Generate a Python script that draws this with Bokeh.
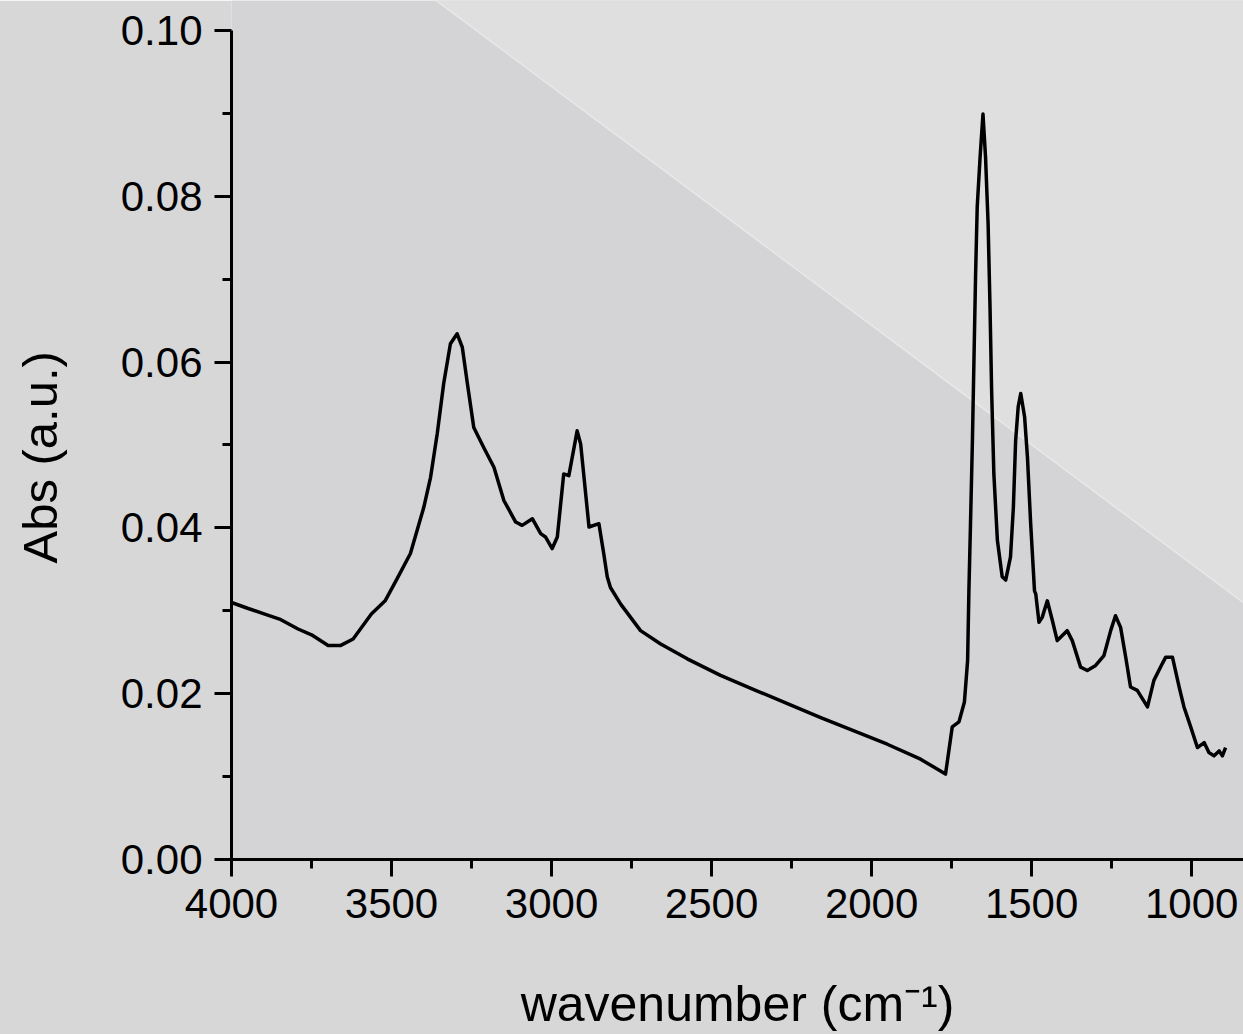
from bokeh.plotting import figure
from bokeh.models import Range1d, FixedTicker, PrintfTickFormatter, Title
from bokeh.embed import file_html
from bokeh.resources import INLINE

# ---- data ----
wavenumber = [4000, 3950, 3896, 3850, 3792, 3750, 3698, 3660, 3620, 3563, 3520,
              3482, 3441, 3399, 3378, 3357, 3337, 3316, 3295, 3279, 3263, 3243,
              3212, 3180, 3149, 3112, 3092, 3060, 3034, 3019, 2998, 2982, 2962,
              2946, 2920, 2909, 2883, 2852, 2837, 2826, 2816, 2784, 2722, 2659,
              2576, 2472, 2368, 2263, 2159, 2055, 1951, 1847, 1769, 1748, 1727,
              1710, 1700, 1696, 1691, 1685, 1680, 1675, 1670, 1661, 1652, 1644,
              1636, 1630, 1625, 1618, 1607, 1592, 1581, 1566, 1557, 1550, 1542,
              1534, 1522, 1513, 1503, 1491, 1487, 1477, 1467, 1451, 1435, 1420,
              1389, 1373, 1347, 1326, 1300, 1274, 1253, 1238, 1222, 1206, 1191,
              1170, 1138, 1118, 1092, 1081, 1060, 1039, 1024, 1003, 982, 961,
              946, 930, 914, 904, 894]
absorbance = [0.0310, 0.0303, 0.0296, 0.0290, 0.0278, 0.0271, 0.0258, 0.0258,
              0.0266, 0.0296, 0.0312, 0.0339, 0.0369, 0.0425, 0.0461, 0.0514,
              0.0574, 0.0622, 0.0634, 0.0618, 0.0574, 0.0521, 0.0497, 0.0473,
              0.0433, 0.0407, 0.0403, 0.0411, 0.0393, 0.0389, 0.0375, 0.0389,
              0.0465, 0.0463, 0.0517, 0.0501, 0.0401, 0.0405, 0.0369, 0.0341,
              0.0328, 0.0308, 0.0276, 0.0260, 0.0242, 0.0222, 0.0205, 0.0188,
              0.0171, 0.0155, 0.0139, 0.0121, 0.0103, 0.0160, 0.0166, 0.0190,
              0.0240, 0.0324, 0.0405, 0.0505, 0.0606, 0.0707, 0.0787, 0.0847,
              0.0899, 0.0847, 0.0767, 0.0666, 0.0566, 0.0465, 0.0385, 0.0341,
              0.0337, 0.0365, 0.0425, 0.0505, 0.0546, 0.0562, 0.0534, 0.0485,
              0.0405, 0.0324, 0.0320, 0.0286, 0.0292, 0.0312, 0.0288, 0.0264,
              0.0276, 0.0264, 0.0232, 0.0228, 0.0234, 0.0246, 0.0276, 0.0294,
              0.0280, 0.0244, 0.0208, 0.0204, 0.0184, 0.0216, 0.0236, 0.0244,
              0.0244, 0.0208, 0.0184, 0.0160, 0.0135, 0.0141, 0.0129, 0.0125,
              0.0131, 0.0125, 0.0135]

x_ticks = [4000, 3500, 3000, 2500, 2000, 1500, 1000]
x_minor = [3750, 3250, 2750, 2250, 1750, 1250]
y_ticks = [0.00, 0.02, 0.04, 0.06, 0.08, 0.10]
y_minor = [0.01, 0.03, 0.05, 0.07, 0.09]

FONT = "Liberation Sans"
SHIFT = 45                      # canvas starts this far left of the page edge
W, H = 1243 + SHIFT, 1034
LEFT, BOTTOM_PX = 231 + SHIFT, 859
X0, X1 = 4000, 838
Y0, Y1 = 0.0, 0.1036

def px_to_x(px):                # px in page pixels
    return X0 + (px + SHIFT - LEFT) * (X1 - X0) / (W - LEFT)

def py_to_y(py):
    return Y0 + (BOTTOM_PX - py) * (Y1 - Y0) / BOTTOM_PX

p = figure(width=W, height=H, x_range=Range1d(X0, X1), y_range=Range1d(Y0, Y1),
           output_backend="svg", toolbar_location=None,
           min_border_left=LEFT, min_border_right=0, min_border_top=0,
           min_border_bottom=H - BOTTOM_PX, margin=(0, 0, 0, -SHIFT))
p.outline_line_color = None
p.grid.visible = False
p.background_fill_color = "#d4d4d6"
p.border_fill_color = "#d7d7d8"

# lighter triangular background area (top right)
tri_x = [px_to_x(433), px_to_x(1248), px_to_x(1248)]
tri_y = [py_to_y(-2), py_to_y(-2), py_to_y(606)]
p.patch(tri_x, tri_y, fill_color="#dfdfdf", line_color="#e8e8e8", line_width=1.5)

p.line(wavenumber, absorbance, line_color="black", line_width=3.5, line_join="round")

for ax in (p.xaxis[0], p.yaxis[0]):
    ax.axis_line_width = 3
    ax.axis_line_color = "black"
    ax.major_tick_line_width = 3
    ax.minor_tick_line_width = 3
    ax.major_tick_out = 17
    ax.major_tick_in = 0
    ax.minor_tick_out = 9
    ax.minor_tick_in = 0
    ax.major_label_text_font = FONT
    ax.major_label_text_font_size = "42px"
    ax.major_label_text_color = "black"

p.xaxis[0].ticker = FixedTicker(ticks=x_ticks, minor_ticks=x_minor)
p.xaxis[0].formatter = PrintfTickFormatter(format="%d")
p.xaxis[0].bounds = (X1, X0)
p.xaxis[0].major_label_standoff = 12
p.xaxis[0].axis_label = "wavenumber (cm\u207b\u00b9)"
p.xaxis[0].axis_label_text_font = FONT
p.xaxis[0].axis_label_text_font_size = "50px"
p.xaxis[0].axis_label_text_font_style = "normal"
p.xaxis[0].axis_label_text_color = "black"
p.xaxis[0].axis_label_standoff = 55

p.yaxis[0].ticker = FixedTicker(ticks=y_ticks, minor_ticks=y_minor)
p.yaxis[0].formatter = PrintfTickFormatter(format="%.2f")
p.yaxis[0].bounds = (0.0, 0.10)
p.yaxis[0].major_label_standoff = 12

p.add_layout(Title(text="Abs (a.u.)", align="left", offset=296, standoff=102,
                   text_font=FONT, text_font_size="49px", text_font_style="normal",
                   text_color="black"), "left")

open("out.html", "w").write(file_html(p, INLINE))
